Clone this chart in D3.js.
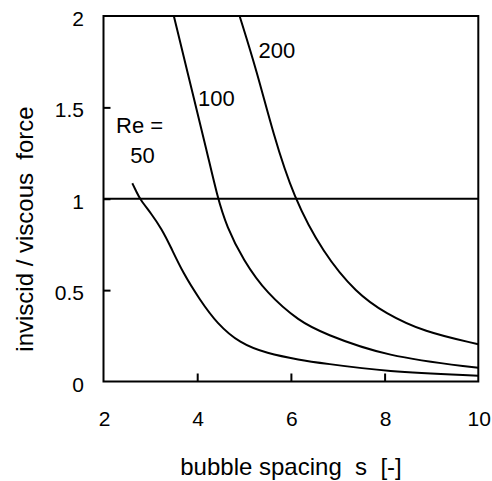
<!DOCTYPE html>
<html>
<head>
<meta charset="utf-8">
<script src="https://cdn.jsdelivr.net/npm/d3@7"></script>
<style>
  html, body { margin: 0; padding: 0; background: #fff; }
  text { font-family: "Liberation Sans", Arial, sans-serif; fill: #000; }
</style>
</head>
<body>
<svg id="chart" width="492" height="481"></svg>
<script>
// ---- data ----
const xTicks = [2, 4, 6, 8, 10];
const yTicks = [0, 0.5, 1, 1.5, 2];
const yTickLabels = ["0", "0.5", "1", "1.5", "2"];

const re50X  = [2.615, 2.70, 2.78, 3.03, 3.24, 3.42, 3.70, 4.06, 4.42, 4.91, 5.48, 6.19, 6.69, 8.02, 10];
const re50Y  = [1.085, 1.04, 0.997, 0.915, 0.835, 0.745, 0.592, 0.446, 0.318, 0.209, 0.154, 0.118, 0.0996, 0.054, 0.032];
const re100X = [3.505, 3.92, 4.20, 4.43, 4.63, 4.98, 5.48, 6.19, 6.69, 8.02, 10];
const re100Y = [1.996, 1.558, 1.267, 1.011, 0.847, 0.665, 0.483, 0.327, 0.264, 0.136, 0.075];
const re200X = [4.91, 5.27, 5.62, 6.05, 6.69, 7.40, 8.02, 8.83, 10];
const re200Y = [1.996, 1.70, 1.358, 1.011, 0.702, 0.483, 0.373, 0.272, 0.204];
const refLineY = 1;

const seriesLabels = [
  { text: "Re =", x: 2.77, y: 1.36 },
  { text: "50",   x: 2.83, y: 1.196 },
  { text: "100",  x: 4.41, y: 1.507 },
  { text: "200",  x: 5.70, y: 1.77 }
];

// ---- layout ----
const svg = d3.select("#chart");
const L = 103.5, R = 478.3, T = 16, B = 381.5;
const x = d3.scaleLinear().domain([2, 10]).range([L, R]);
const y = d3.scaleLinear().domain([0, 2]).range([B, T]);

// frame
svg.append("rect")
  .attr("x", L).attr("y", T).attr("width", R - L).attr("height", B - T)
  .attr("fill", "none").attr("stroke", "#000").attr("stroke-width", 2);

// inward ticks
const xAxis = d3.axisTop(x).tickValues(xTicks.slice(1, -1)).tickSize(8).tickFormat("");
svg.append("g").attr("transform", `translate(0,${B})`).call(xAxis)
  .call(g => g.select(".domain").remove())
  .call(g => g.selectAll("line").attr("stroke", "#000").attr("stroke-width", 2));
const yAxis = d3.axisRight(y).tickValues(yTicks.slice(1, -1)).tickSize(7).tickFormat("");
svg.append("g").attr("transform", `translate(${L},0)`).call(yAxis)
  .call(g => g.select(".domain").remove())
  .call(g => g.selectAll("line").attr("stroke", "#000").attr("stroke-width", 2));

// tick labels
svg.append("g").selectAll("text").data(xTicks).join("text")
  .attr("x", d => x(d) + 1).attr("y", B + 44.5)
  .attr("text-anchor", "middle").attr("font-size", 21)
  .text(d => d);
svg.append("g").selectAll("text").data(yTicks).join("text")
  .attr("x", 84).attr("y", d => y(d) + 10)
  .attr("text-anchor", "end").attr("font-size", 21)
  .text((d, i) => yTickLabels[i]);

// axis titles
svg.append("text")
  .attr("x", 291).attr("y", 475)
  .attr("text-anchor", "middle").attr("font-size", 24)
  .attr("xml:space", "preserve")
  .text("bubble spacing  s  [-]");
svg.append("text")
  .attr("transform", "translate(33,229) rotate(-90)")
  .attr("text-anchor", "middle").attr("font-size", 24)
  .attr("xml:space", "preserve")
  .text("inviscid / viscous  force");

// reference line y = 1
svg.append("line")
  .attr("x1", x(2)).attr("x2", x(10))
  .attr("y1", y(refLineY)).attr("y2", y(refLineY))
  .attr("stroke", "#000").attr("stroke-width", 2);

// curves
const line = d3.line().x(d => x(d[0])).y(d => y(d[1])).curve(d3.curveBasis);
const series = [[re50X, re50Y], [re100X, re100Y], [re200X, re200Y]];
svg.append("g").selectAll("path").data(series).join("path")
  .attr("d", s => line(s[0].map((v, i) => [v, s[1][i]])))
  .attr("fill", "none").attr("stroke", "#000").attr("stroke-width", 2);

// curve labels
svg.append("g").selectAll("text").data(seriesLabels).join("text")
  .attr("x", d => x(d.x)).attr("y", d => y(d.y))
  .attr("text-anchor", "middle").attr("font-size", 22)
  .text(d => d.text);
</script>
</body>
</html>
